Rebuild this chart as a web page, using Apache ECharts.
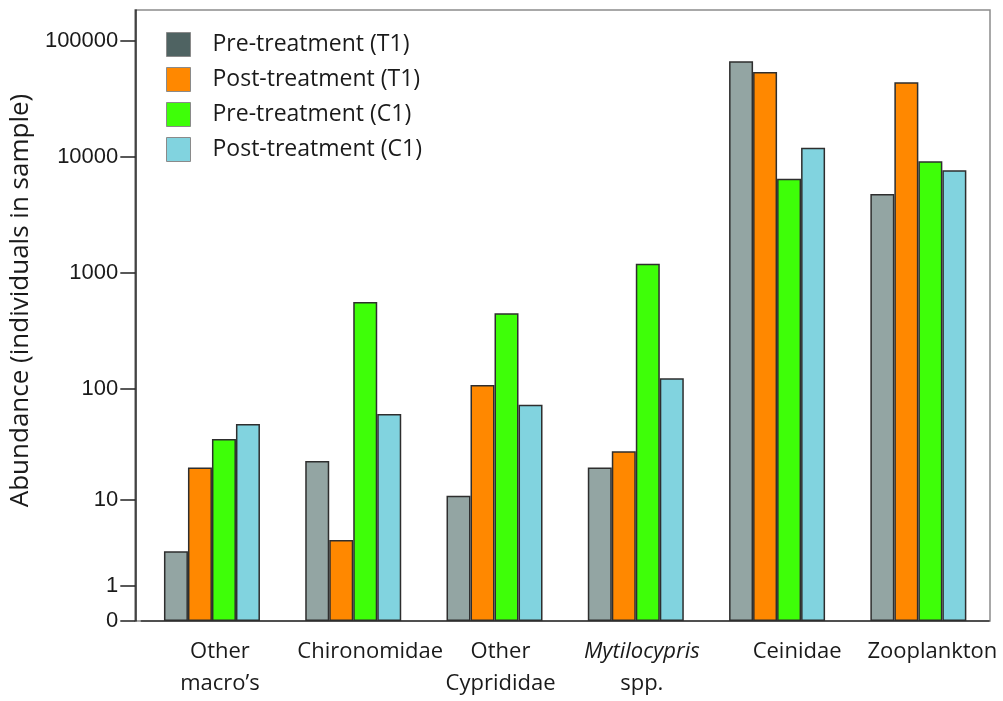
<!DOCTYPE html>
<html>
<head>
<meta charset="utf-8">
<title>Abundance by taxon</title>
<script src="https://cdn.jsdelivr.net/npm/echarts@6/dist/echarts.min.js"></script>
<style>
  html, body { margin: 0; padding: 0; background: #ffffff; }
  #chart { width: 1003px; height: 701px; }
</style>
</head>
<body>
<div id="chart"></div>
<script>
// Taxa on the x axis
const categories = ['Other\nmacro\u2019s', 'Chironomidae', 'Other\nCyprididae', 'Mytilocypris\nspp.', 'Ceinidae', 'Zooplankton'];

// Abundance (individuals in sample) per taxon
const preT1  = [3, 23, 11, 20, 67000, 4800];
const postT1 = [20, 4, 107, 28, 54000, 44000];
const preC1  = [36, 560, 448, 1200, 6500, 9200];
const postC1 = [49, 60, 72, 123, 12000, 7700];

const seriesNames = ['Pre-treatment (T1)', 'Post-treatment (T1)', 'Pre-treatment (C1)', 'Post-treatment (C1)'];

// Tick labels of the log(x + 1) abundance axis
const tickValues = [0, 1, 10, 100, 1000, 10000, 100000];
const axisTopValue = 185000;

// ---- drawing ----
const tf = v => Math.log10(v + 1);
const inv = t => Math.round(Math.pow(10, t) - 1);

const barColors = ['#93A5A3', '#FF8800', '#3EFF08', '#81D3DF'];
const legendColors = ['#4F6362', '#FF8800', '#3EFF08', '#81D3DF'];
const labelShift = [8, 17, 6, 6, 20, 14];

const GRID_LEFT = 141, GRID_RIGHT = 14, GRID_TOP = 10, GRID_BOTTOM = 80, Y_OFFSET = 6;
const W = 1003, H = 701;

const chart = echarts.init(document.getElementById('chart'), null, { renderer: 'canvas' });

const tickPos = tickValues.map(tf);
const dataSets = [preT1, postT1, preC1, postC1];

const option = {
  animation: false,
  backgroundColor: '#ffffff',
  grid: { left: GRID_LEFT, right: GRID_RIGHT, top: GRID_TOP, bottom: GRID_BOTTOM, containLabel: false },
  graphic: [{
    type: 'rect',
    z: 0,
    shape: { x: GRID_LEFT - Y_OFFSET, y: GRID_TOP, width: W - GRID_RIGHT - (GRID_LEFT - Y_OFFSET) + 1, height: H - GRID_BOTTOM - GRID_TOP },
    style: { fill: 'none', stroke: '#8c8c8c', lineWidth: 1.5 }
  }],
  legend: {
    orient: 'vertical',
    left: 161,
    top: 27,
    itemWidth: 24,
    itemHeight: 24,
    itemGap: 10,
    icon: 'rect',
    itemStyle: { borderColor: '#8a8a8a', borderWidth: 1 },
    textStyle: { fontFamily: 'Open Sans', fontSize: 23, color: '#1a1a1a', padding: [0, 0, 0, 17] },
    data: seriesNames.map((n, i) => ({ name: n, itemStyle: { color: legendColors[i] } }))
  },
  xAxis: {
    type: 'category',
    data: categories.map((c, i) => ({ value: c, textStyle: { padding: [0, 0, 0, 2 * labelShift[i]] } })),
    axisLine: { show: true, lineStyle: { color: '#333333', width: 1.5 } },
    axisTick: { show: false },
    axisLabel: {
      interval: 0,
      margin: 15,
      fontFamily: 'Open Sans',
      fontSize: 22,
      lineHeight: 32,
      color: '#1a1a1a',
      formatter: v => v.startsWith('Mytilocypris') ? '{i|Mytilocypris}\nspp.' : v,
      rich: { i: { fontFamily: 'Open Sans', fontStyle: 'italic', fontSize: 22, lineHeight: 32, color: '#1a1a1a' } }
    },
    splitLine: { show: false }
  },
  yAxis: {
    type: 'value',
    min: 0,
    max: tf(axisTopValue),
    offset: Y_OFFSET,
    name: 'Abundance (individuals in sample)',
    nameLocation: 'middle',
    nameRotate: 90,
    nameGap: 94,
    nameTextStyle: { fontFamily: 'Open Sans', fontSize: 26, color: '#1a1a1a', padding: [0, 0, 0, 30] },
    axisLine: { show: true, lineStyle: { color: '#222222', width: 1.5 } },
    axisTick: { show: true, length: 15, customValues: tickPos, lineStyle: { color: '#222222', width: 1.5 } },
    axisLabel: {
      customValues: tickPos,
      margin: 17,
      fontFamily: 'Liberation Sans',
      fontSize: 22,
      color: '#1a1a1a',
      formatter: v => String(inv(v))
    },
    splitLine: { show: false }
  },
  series: dataSets.map((d, i) => ({
    name: seriesNames[i],
    type: 'bar',
    barWidth: 24,
    barGap: '0%',
    data: d.map(tf),
    itemStyle: { color: barColors[i], borderColor: '#2e2e2e', borderWidth: 1.5 }
  }))
};

chart.setOption(option);
</script>
</body>
</html>
